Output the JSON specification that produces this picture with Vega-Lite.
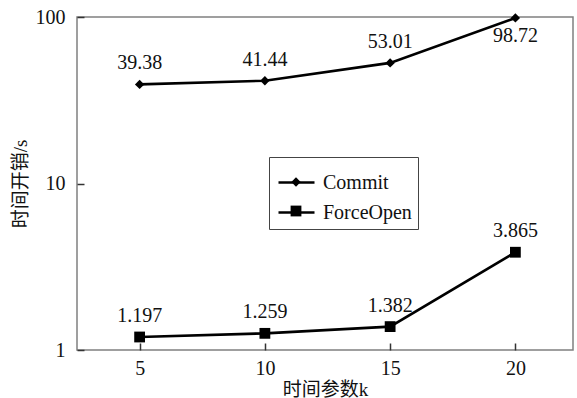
{
  "$schema": "https://vega.github.io/schema/vega-lite/v6.json",
  "width": 496,
  "height": 333,
  "autosize": "none",
  "padding": {"left": 77, "top": 17, "right": 4, "bottom": 48},
  "background": "white",
  "config": {
    "view": {"stroke": "#808080", "strokeWidth": 1.5}
  },
  "data": {
    "values": [
      {"k": 5, "v": 39.38, "s": "Commit", "m": "Commit", "label": "39.38"},
      {"k": 10, "v": 41.44, "s": "Commit", "m": "Commit", "label": "41.44"},
      {"k": 15, "v": 53.01, "s": "Commit", "m": "Commit", "label": "53.01"},
      {"k": 20, "v": 98.72, "s": "Commit", "m": "Commit", "label": "98.72"},
      {"k": 5, "v": 1.197, "s": "ForceOpen", "m": "ForceOpen", "label": "1.197"},
      {"k": 10, "v": 1.259, "s": "ForceOpen", "m": "ForceOpen", "label": "1.259"},
      {"k": 15, "v": 1.382, "s": "ForceOpen", "m": "ForceOpen", "label": "1.382"},
      {"k": 20, "v": 3.865, "s": "ForceOpen", "m": "ForceOpen", "label": "3.865"}
    ]
  },
  "encoding": {
    "x": {
      "field": "k",
      "type": "quantitative",
      "scale": {"domain": [2.5, 22.3], "nice": false, "zero": false},
      "axis": {"zindex": 1, "values": [5, 10, 15, 20], "grid": true, "gridOpacity": 0, "domain": false, "tickColor": "#333333", "tickSize": -7, "tickWidth": 1.5, "labelPadding": 15, "labelFont": "Liberation Serif", "labelFontSize": 20, "labelColor": "#111111", "title": "时间参数k", "titleFont": "Liberation Serif, Noto Sans CJK SC", "titleFontSize": 19, "titleFontWeight": "normal", "titleColor": "#111111", "titlePadding": 2}
    },
    "y": {
      "field": "v",
      "type": "quantitative",
      "scale": {"type": "log", "domain": [1, 100], "nice": false},
      "axis": {"zindex": 1, "values": [1, 10, 100], "format": "d", "grid": true, "gridOpacity": 0, "domain": false, "tickColor": "#333333", "tickSize": -7, "tickWidth": 1.5, "labelPadding": 19, "labelFont": "Liberation Serif", "labelFontSize": 20, "labelColor": "#111111", "title": "时间开销/s", "titleFont": "Liberation Serif, Noto Sans CJK SC", "titleFontSize": 19, "titleFontWeight": "normal", "titleColor": "#111111", "titlePadding": 5}
    }
  },
  "layer": [
    {
      "mark": {"type": "line", "strokeWidth": 2.6},
      "encoding": {
        "color": {
          "field": "s",
          "type": "nominal",
          "scale": {"domain": ["Commit", "ForceOpen"], "range": ["black", "black"]},
          "legend": {
            "title": null,
            "orient": "none",
            "legendX": 192,
            "legendY": 140,
            "symbolType": "stroke",
            "symbolSize": 1296,
            "symbolStrokeWidth": 2.6,
            "symbolOffset": 2,
            "labelFont": "Liberation Serif",
            "labelFontSize": 20,
            "labelColor": "#111111",
            "labelOffset": 7,
            "rowPadding": 0,
            "padding": 6,
            "strokeColor": "#444444"
          }
        }
      }
    },
    {
      "mark": {"type": "point", "filled": true, "color": "black", "opacity": 1, "size": 1296},
      "encoding": {
        "shape": {
          "field": "m",
          "type": "nominal",
          "scale": {"range": ["M-0.26,0L0,-0.26L0.26,0L0,0.26Z", "M-0.3,-0.3H0.3V0.3H-0.3Z"]},
          "legend": {
            "title": null,
            "orient": "none",
            "legendX": 192,
            "legendY": 140,
            "symbolSize": 1296,
            "symbolOffset": 2,
            "symbolFillColor": "black",
            "symbolOpacity": 1,
            "labelFont": "Liberation Serif",
            "labelFontSize": 20,
            "labelOpacity": 0,
            "labelOffset": 7,
            "rowPadding": 0,
            "padding": 6
          }
        }
      }
    },
    {
      "transform": [{"filter": "datum.v < 90"}],
      "mark": {"type": "text", "dy": -21, "fontSize": 20, "color": "#111111", "font": "Liberation Serif"},
      "encoding": {"text": {"field": "label"}}
    },
    {
      "transform": [{"filter": "datum.v >= 90"}],
      "mark": {"type": "text", "dy": 18, "fontSize": 20, "color": "#111111", "font": "Liberation Serif"},
      "encoding": {"text": {"field": "label"}}
    }
  ]
}
